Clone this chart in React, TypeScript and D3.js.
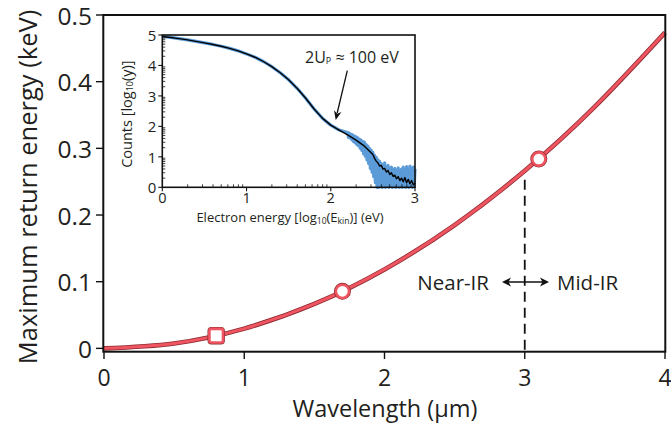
import React from 'react';
import * as d3 from 'd3';

const W = 671;
const H = 423;
const FONT = "'Open Sans', 'Noto Sans', sans-serif";

// Main panel: maximum return energy (3.17 Up) against driving wavelength
const wavelengthTicks = [0, 1, 2, 3, 4];
const energyTicks = [0, 0.1, 0.2, 0.3, 0.4, 0.5];
const curveWavelength = [0, 0.5, 1, 1.5, 2, 2.5, 3, 3.5, 4];
const curveEnergy = [0, 0.0074, 0.0296, 0.0666, 0.1184, 0.185, 0.2664, 0.3626, 0.4736];
const squareMarkers = [{ wl: 0.8, e: 0.019 }];
const circleMarkers = [
  { wl: 1.7, e: 0.0855 },
  { wl: 3.1, e: 0.284 },
];
const regionBoundary = 3;

// Inset: photoelectron spectrum, log-log
const insetXTicks = [0, 1, 2, 3];
const insetYTicks = [0, 1, 2, 3, 4, 5];
const spectrumX = [0, 0.1, 0.2, 0.3, 0.4, 0.5, 0.6, 0.7, 0.8, 0.9, 1.0, 1.1, 1.2, 1.3, 1.4, 1.5, 1.6, 1.7, 1.8, 1.9, 2.0, 2.1, 2.2, 2.3, 2.4, 2.5];
const spectrumY = [4.95, 4.92, 4.88, 4.84, 4.79, 4.74, 4.69, 4.63, 4.56, 4.48, 4.38, 4.27, 4.13, 3.96, 3.76, 3.53, 3.25, 2.93, 2.58, 2.27, 2.04, 1.88, 1.72, 1.55, 1.35, 1.08];
// averaged signal in the high-energy tail
const tailX = [2.52, 2.54, 2.56, 2.58, 2.6, 2.62, 2.64, 2.66, 2.68, 2.7, 2.72, 2.74, 2.76, 2.78, 2.8, 2.82, 2.84, 2.86, 2.88, 2.9, 2.92, 2.94, 2.96, 2.98, 3.0];
const tailY = [0.95, 0.86, 0.8, 0.7, 0.72, 0.6, 0.62, 0.5, 0.55, 0.42, 0.48, 0.36, 0.4, 0.28, 0.35, 0.22, 0.3, 0.18, 0.32, 0.15, 0.26, 0.12, 0.22, 0.08, 0.14];
// single-shot raw signal in the tail (step 0.01 from 2.20)
const rawTailStart = 2.2;
const rawTailY = [
  1.8, 1.64, 1.78, 1.62, 1.74, 1.56, 1.72, 1.5, 1.68, 1.46,
  1.66, 1.4, 1.62, 1.36, 1.58, 1.28, 1.55, 1.2, 1.5, 1.1,
  1.48, 1.02, 1.4, 0.9, 1.35, 0.78, 1.28, 0.62, 1.22, 0.5,
  1.15, 0.35, 1.05, 0.15, 0.98, 0.0, 0.9, 0.0, 0.85, 0.05,
  0.78, 0.0, 0.7, 0.1, 0.8, 0.0, 0.65, 0.05, 0.72, 0.0,
  0.6, 0.08, 0.66, 0.0, 0.58, 0.04, 0.62, 0.0, 0.55, 0.06,
  0.64, 0.0, 0.52, 0.02, 0.6, 0.0, 0.66, 0.03, 0.55, 0.0,
  0.68, 0.02, 0.58, 0.0, 0.7, 0.04, 0.62, 0.0, 0.66, 0.02,
  0.6,
];
const rawTailX = rawTailY.map((_, i) => rawTailStart + i * 0.01);

const RED = '#ee5560';
const RED_EDGE = '#8c2a31';
const BLUE = '#5b9bd8';
const INK = '#231f20';

function arrowHead(x: number, y: number, angle: number, len = 9, half = 4.5) {
  // triangle pointing along `angle` with its tip at (x, y)
  const ca = Math.cos(angle);
  const sa = Math.sin(angle);
  const bx = x - ca * len;
  const by = y - sa * len;
  const p1 = [bx - sa * half, by + ca * half];
  const p2 = [bx + sa * half, by - ca * half];
  return `M${x},${y}L${p1[0]},${p1[1]}L${bx + ca * 2.5},${by + sa * 2.5}L${p2[0]},${p2[1]}Z`;
}

export default function App() {
  // main scales
  const x = d3.scaleLinear().domain([0, 4]).range([104, 665]);
  const y = d3.scaleLinear().domain([-0.005, 0.5]).range([351.7, 15]);

  const curvePts = curveWavelength.map((wl, i) => [wl, curveEnergy[i]] as [number, number]);
  const curvePath = d3
    .line<[number, number]>()
    .x((d) => x(d[0]))
    .y((d) => y(d[1]))
    .curve(d3.curveNatural)(curvePts) as string;

  // inset scales
  const ix = d3.scaleLinear().domain([0, 3]).range([162.3, 415]);
  const iy = d3.scaleLinear().domain([0, 5]).range([187.3, 35]);
  const iline = d3
    .line<[number, number]>()
    .x((d) => ix(d[0]))
    .y((d) => iy(Math.max(0, d[1])));

  const smooth = spectrumX.map((v, i) => [v, spectrumY[i]] as [number, number]);
  const smoothToRaw = smooth.filter((d) => d[0] < rawTailStart - 1e-9);
  const rawTail = rawTailX.map((v, i) => [v, rawTailY[i]] as [number, number]);
  const rawPts = smoothToRaw.concat(rawTail);
  const avgPts = smooth.concat(tailX.map((v, i) => [v, tailY[i]] as [number, number]));

  const minorTicks: number[] = [];
  for (let dec = 0; dec < 3; dec++) {
    for (let k = 2; k <= 9; k++) minorTicks.push(dec + Math.log10(k));
  }
  const minorTicksY: number[] = [];
  for (let dec = 0; dec < 5; dec++) {
    for (let k = 2; k <= 9; k++) minorTicksY.push(dec + Math.log10(k));
  }

  const yBoundTop = y(0.262) + 6;
  const arrowY = 282;

  return (
    <svg
      width={W}
      height={H}
      viewBox={`0 0 ${W} ${H}`}
      style={{ position: 'absolute', left: 0, top: 0, background: '#fff' }}
      fontFamily={FONT}
    >
      <rect x={0} y={0} width={W} height={H} fill="#fff" />

      {/* dashed near-IR / mid-IR boundary */}
      <line
        x1={x(regionBoundary)}
        x2={x(regionBoundary)}
        y1={yBoundTop}
        y2={y.range()[0]}
        stroke="#111"
        strokeWidth={1.8}
        strokeDasharray="10 6"
      />

      {/* energy curve */}
      <path d={curvePath} fill="none" stroke={RED_EDGE} strokeWidth={4.6} />
      <path d={curvePath} fill="none" stroke={RED} strokeWidth={3} />

      {squareMarkers.map((m, i) => (
        <g key={`s${i}`}>
          <rect x={x(m.wl) - 6.8} y={y(m.e) - 6.8} width={13.6} height={13.6} rx={2} fill="#fff" stroke={RED_EDGE} strokeWidth={3.8} />
          <rect x={x(m.wl) - 6.8} y={y(m.e) - 6.8} width={13.6} height={13.6} rx={2} fill="#fff" stroke={RED} strokeWidth={2.6} />
        </g>
      ))}
      {circleMarkers.map((m, i) => (
        <g key={`c${i}`}>
          <circle cx={x(m.wl)} cy={y(m.e)} r={6.6} fill="#fff" stroke={RED_EDGE} strokeWidth={3.8} />
          <circle cx={x(m.wl)} cy={y(m.e)} r={6.6} fill="#fff" stroke={RED} strokeWidth={2.6} />
        </g>
      ))}

      {/* region labels with double arrow */}
      <text x={489} y={arrowY} fontSize={20.5} textAnchor="end" dominantBaseline="central" fill={INK}>
        Near-IR
      </text>
      <text x={557} y={arrowY} fontSize={20.5} textAnchor="start" dominantBaseline="central" fill={INK}>
        Mid-IR
      </text>
      <line x1={506} x2={545} y1={arrowY} y2={arrowY} stroke="#111" strokeWidth={1.6} />
      <path d={arrowHead(549, arrowY, 0)} fill="#111" />
      <path d={arrowHead(502, arrowY, Math.PI)} fill="#111" />

      {/* frame */}
      <rect x={103.3} y={15} width={665.3 - 103.3} height={351.7 - 15} fill="none" stroke="#111" strokeWidth={2} />

      {/* y axis */}
      {energyTicks.map((t) => (
        <g key={`yt${t}`}>
          <line x1={96} x2={103.3} y1={y(t)} y2={y(t)} stroke="#111" strokeWidth={1.4} />
          <text x={92} y={y(t)} fontSize={24.5} textAnchor="end" dominantBaseline="central" fill={INK}>
            {t === 0 ? '0' : d3.format('.1f')(t)}
          </text>
        </g>
      ))}
      {/* x axis */}
      {wavelengthTicks.map((t) => (
        <g key={`xt${t}`}>
          <line x1={x(t)} x2={x(t)} y1={351.7} y2={359} stroke="#111" strokeWidth={1.4} />
          <text x={x(t)} y={376.5} fontSize={23} textAnchor="middle" dominantBaseline="central" fill={INK}>
            {t}
          </text>
        </g>
      ))}
      <text x={385} y={408} fontSize={23.5} textAnchor="middle" dominantBaseline="central" fill={INK}>
        Wavelength (µm)
      </text>
      <text
        transform={`translate(27,${187}) rotate(-90)`}
        fontSize={25.5}
        textAnchor="middle"
        dominantBaseline="central"
        fill={INK}
      >
        Maximum return energy (keV)
      </text>

      {/* ---------- inset ---------- */}
      <g>
        <path d={iline(rawPts) as string} fill="none" stroke={BLUE} strokeWidth={3.2} strokeLinejoin="round" />
        <path d={iline(rawTail) as string} fill="none" stroke={BLUE} strokeWidth={1.8} />
        <path d={iline(avgPts) as string} fill="none" stroke="#000" strokeWidth={1.4} strokeLinejoin="round" />

        <rect x={ix(0)} y={iy(5)} width={ix(3) - ix(0)} height={iy(0) - iy(5)} fill="none" stroke="#111" strokeWidth={1.6} />

        {minorTicks.map((t, i) => (
          <line key={`imx${i}`} x1={ix(t)} x2={ix(t)} y1={iy(0)} y2={iy(0) - 3} stroke="#111" strokeWidth={0.8} />
        ))}
        {minorTicksY.map((t, i) => (
          <line key={`imy${i}`} x1={ix(0)} x2={ix(0) + 3} y1={iy(t)} y2={iy(t)} stroke="#111" strokeWidth={0.8} />
        ))}
        {insetXTicks.map((t) => (
          <g key={`ixt${t}`}>
            <line x1={ix(t)} x2={ix(t)} y1={iy(0)} y2={iy(0) + 4} stroke="#111" strokeWidth={1.1} />
            <text x={ix(t)} y={197.5} fontSize={14.5} textAnchor="middle" dominantBaseline="central" fill={INK}>
              {t}
            </text>
          </g>
        ))}
        {insetYTicks.map((t) => (
          <g key={`iyt${t}`}>
            <line x1={ix(0) - 4} x2={ix(0)} y1={iy(t)} y2={iy(t)} stroke="#111" strokeWidth={1.1} />
            <text x={ix(0) - 6} y={iy(t)} fontSize={15} textAnchor="end" dominantBaseline="central" fill={INK}>
              {t}
            </text>
          </g>
        ))}

        <text x={290} y={216.5} fontSize={13} textAnchor="middle" dominantBaseline="central" fill={INK}>
          Electron energy [log
          <tspan fontSize={8.5} dy={3}>10</tspan>
          <tspan dy={-3}>(E</tspan>
          <tspan fontSize={8.5} dy={3}>kin</tspan>
          <tspan dy={-3}>)] (eV)</tspan>
        </text>
        <text
          transform={`translate(126,${iy(2.5) + 3}) rotate(-90)`}
          fontSize={14.5}
          textAnchor="middle"
          dominantBaseline="central"
          fill={INK}
        >
          Counts [log
          <tspan fontSize={9} dy={3}>10</tspan>
          <tspan dy={-3}>(y)]</tspan>
        </text>

        {/* cutoff annotation */}
        <text x={305} y={57} fontSize={16} textAnchor="start" dominantBaseline="central" fill={INK}>
          2U
          <tspan fontSize={9} dy={3}>P</tspan>
          <tspan dy={-3}> ≈ 100 eV</tspan>
        </text>
        <line x1={347.3} y1={70.7} x2={337.2} y2={113} stroke="#111" strokeWidth={1.3} />
        <path d={arrowHead(335.7, 120, Math.atan2(120 - 70.7, 335.7 - 347.3), 9, 3.8)} fill="#111" />
      </g>
    </svg>
  );
}
